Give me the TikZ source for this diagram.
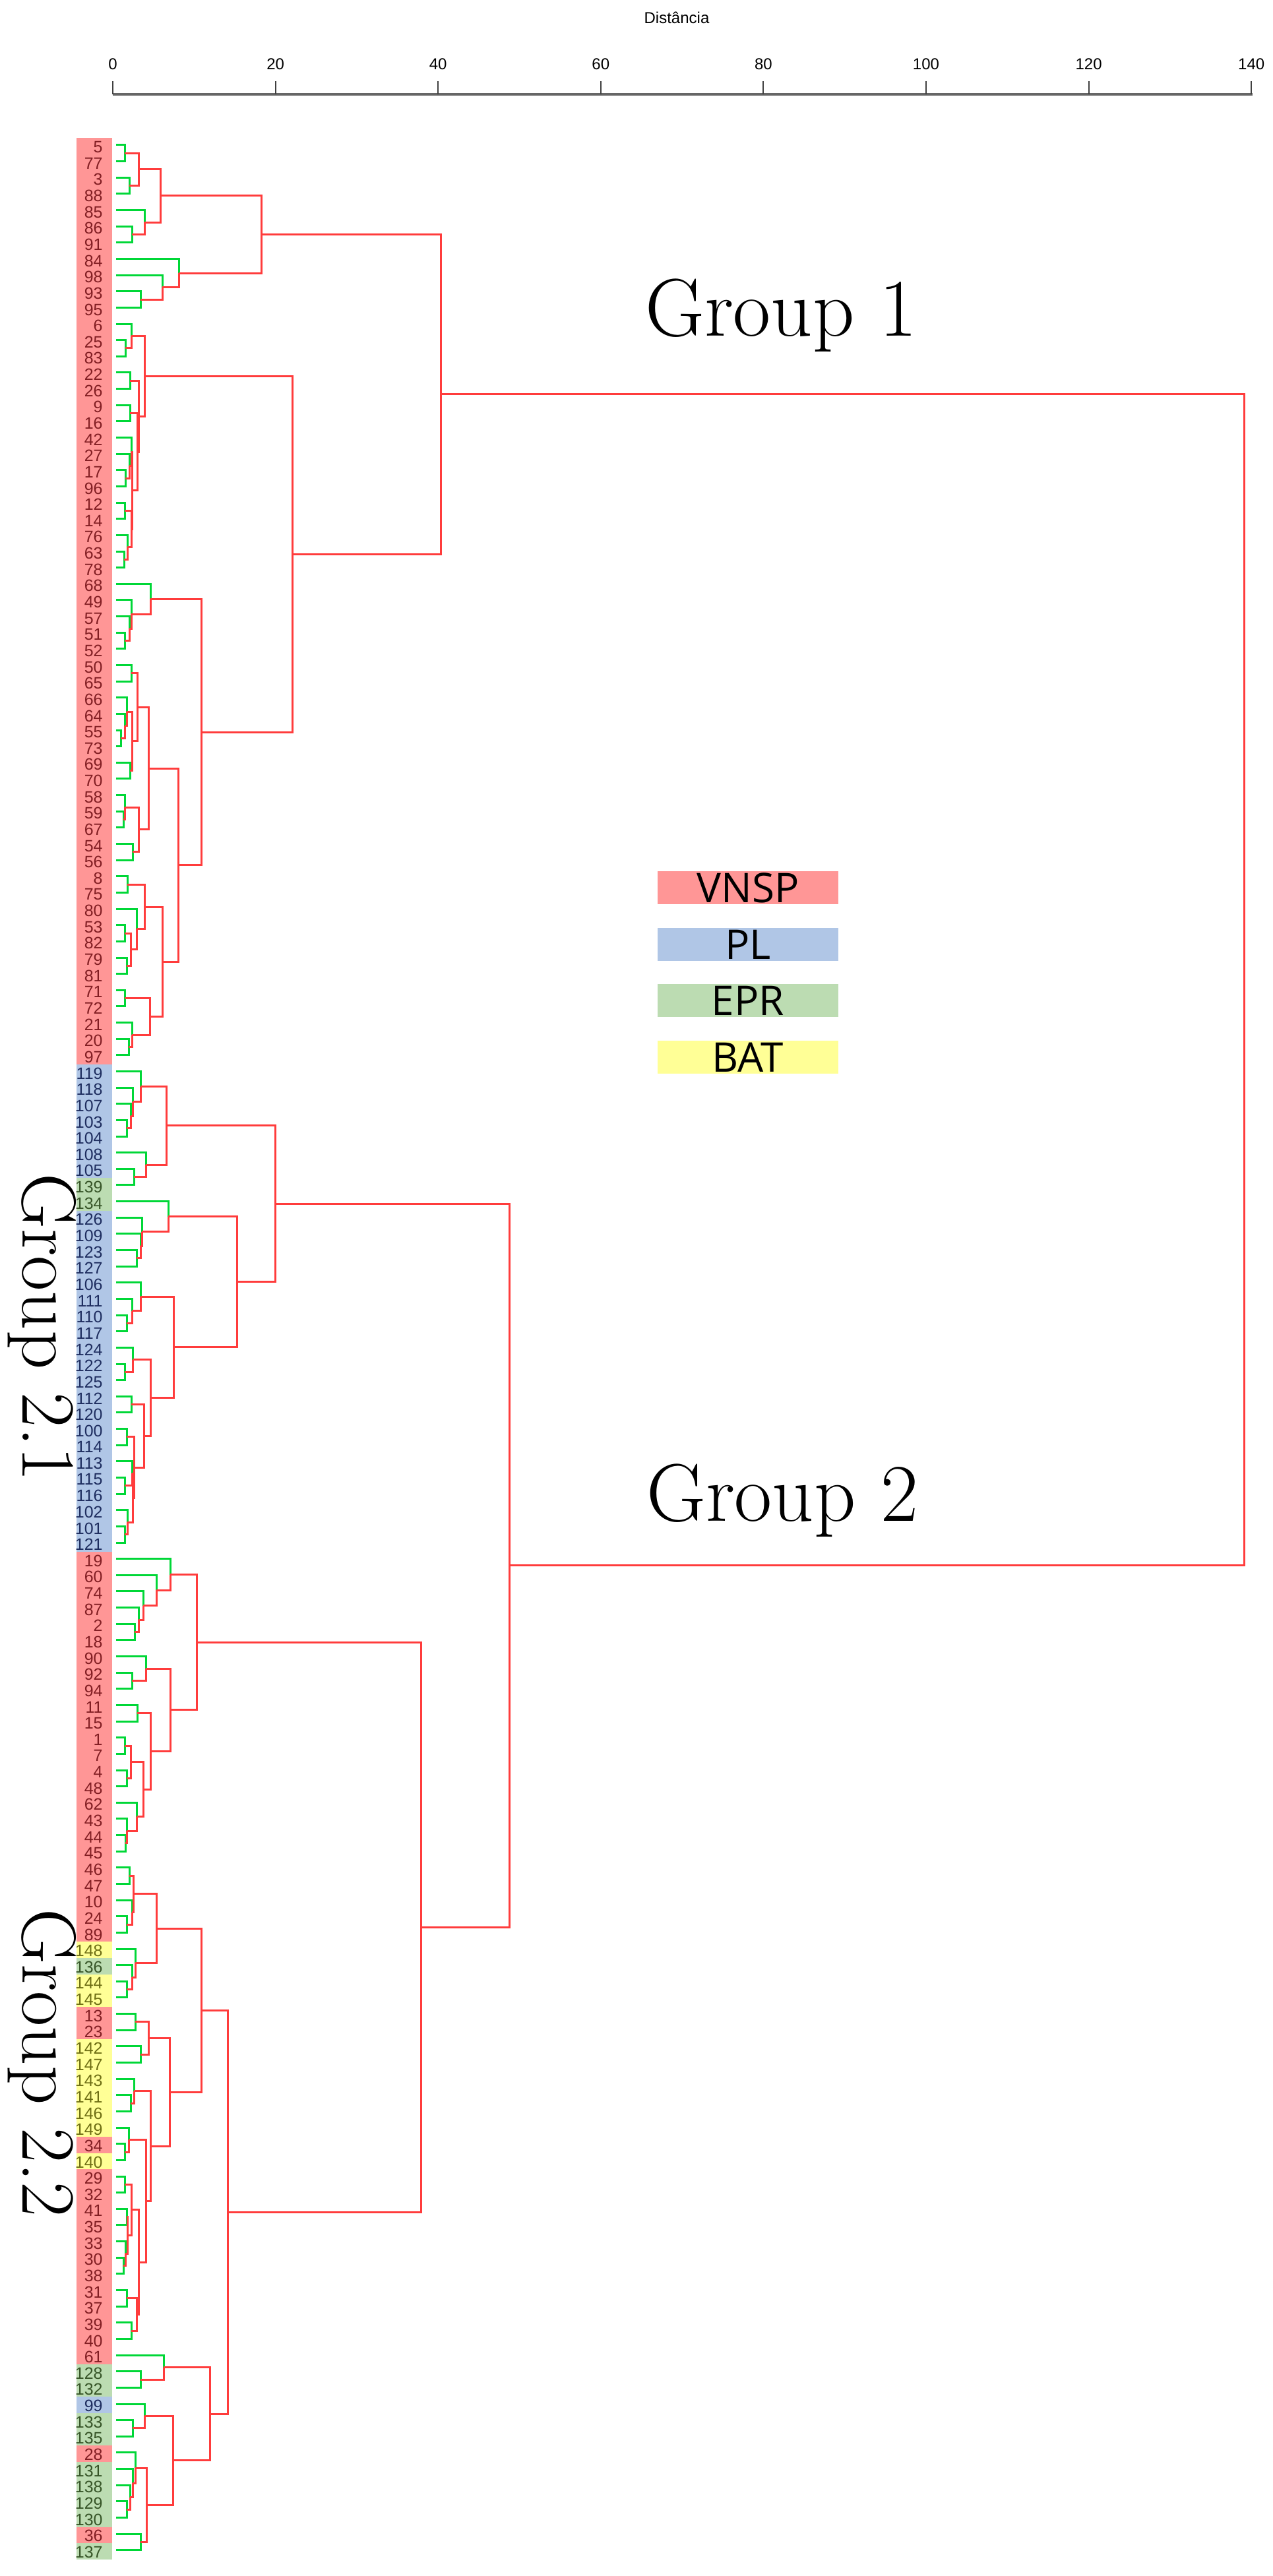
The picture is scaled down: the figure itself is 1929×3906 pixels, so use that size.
\documentclass[tikz,border=0pt]{standalone}
\usepackage{fontspec}
\setsansfont{Liberation Sans}
\newfontfamily\legfont{Open Sans}
\usetikzlibrary{calc}
\definecolor{bgr}{RGB}{255,150,150}
\definecolor{bgb}{RGB}{176,198,230}
\definecolor{bgg}{RGB}{188,220,178}
\definecolor{bgy}{RGB}{255,255,150}
\definecolor{txr}{RGB}{130,30,35}
\definecolor{txb}{RGB}{30,45,95}
\definecolor{txg}{RGB}{55,85,40}
\definecolor{txy}{RGB}{110,110,20}
\definecolor{lred}{RGB}{255,60,60}
\definecolor{lgreen}{RGB}{0,215,55}
\newcommand\dmerge[6]{%
  \path (#2) -- (#4) coordinate[pos=0.5] (#1mid);
  \coordinate (#1x) at (#6,0);
  \coordinate (#1) at (#1mid -| #1x);
  \draw[#3] (#2) -| (#1);
  \draw[#5] (#1) |- (#4);
}
\begin{document}
\begin{tikzpicture}[x=0.5pt,y=-0.5pt,
  lf/.style={draw=lgreen,line width=1.5pt},
  cl/.style={draw=lred,line width=1.5pt},
  lbl/.style={font=\sffamily\fontsize{12.5}{13}\selectfont,anchor=east,inner sep=0pt},
  axn/.style={font=\sffamily\fontsize{12}{13}\selectfont,inner sep=0pt},
  axisl/.style={draw=black!75,line width=1pt},
  grp/.style={font=\fontsize{62}{66}\selectfont,inner sep=0pt},
  grpv/.style={font=\fontsize{58}{62}\selectfont,inner sep=0pt,rotate=-90},
  leg/.style={font=\legfont\fontsize{31}{33}\selectfont,minimum width=137pt,minimum height=25pt,inner sep=0pt,text=black}]
\useasboundingbox (0,0) rectangle (1929,3906);
\fill[white] (0,0) rectangle (1929,3906);
% axis
\node[axn] (title) at (1026,27) {Distância};
\coordinate (ax0) at (171,143);
\coordinate (ax1) at (1899,143);
\draw[axisl,line width=2pt,draw=black!60] (ax0) -- (ax1);
\foreach \d in {0,20,...,140}{
  \coordinate (tk\d) at ({171+12.33*\d},143);
  \coordinate (tt\d) at ({171+12.33*\d},123);
  \draw[axisl] (tk\d) -- (tt\d);
  \node[axn] (axl\d) at ({171+12.33*\d},97) {\d};
}
% leaves
\foreach \lab/\cls [count=\i from 0] in {5/r,77/r,3/r,88/r,85/r,86/r,91/r,84/r,98/r,93/r,95/r,6/r,25/r,83/r,22/r,26/r,9/r,16/r,42/r,27/r,17/r,96/r,12/r,14/r,76/r,63/r,78/r,68/r,49/r,57/r,51/r,52/r,50/r,65/r,66/r,64/r,55/r,73/r,69/r,70/r,58/r,59/r,67/r,54/r,56/r,8/r,75/r,80/r,53/r,82/r,79/r,81/r,71/r,72/r,21/r,20/r,97/r,119/b,118/b,107/b,103/b,104/b,108/b,105/b,139/g,134/g,126/b,109/b,123/b,127/b,106/b,111/b,110/b,117/b,124/b,122/b,125/b,112/b,120/b,100/b,114/b,113/b,115/b,116/b,102/b,101/b,121/b,19/r,60/r,74/r,87/r,2/r,18/r,90/r,92/r,94/r,11/r,15/r,1/r,7/r,4/r,48/r,62/r,43/r,44/r,45/r,46/r,47/r,10/r,24/r,89/r,148/y,136/g,144/y,145/y,13/r,23/r,142/y,147/y,143/y,141/y,146/y,149/y,34/r,140/y,29/r,32/r,41/r,35/r,33/r,30/r,38/r,31/r,37/r,39/r,40/r,61/r,128/g,132/g,99/b,133/g,135/g,28/r,131/g,138/g,129/g,130/g,36/r,137/g}{
  \pgfmathsetmacro\yy{220+24.64*\i}
  \fill[fill=bg\cls] (116,\yy-10.6) rectangle (170,\yy+14.1);
  \node[lbl,text=tx\cls] (lab\lab) at (156,\yy+3) {\lab};
  \coordinate (L\lab) at (176,\yy);
}
% ---- Group 1
\dmerge{a1}{L5}{lf}{L77}{lf}{189}
\dmerge{a2}{L3}{lf}{L88}{lf}{196}
\dmerge{a3}{a1}{cl}{a2}{cl}{210}
\dmerge{b1}{L86}{lf}{L91}{lf}{200}
\dmerge{b2}{L85}{lf}{b1}{cl}{219}
\dmerge{a4}{a3}{cl}{b2}{cl}{243}
\dmerge{c1}{L93}{lf}{L95}{lf}{213}
\dmerge{c2}{L98}{lf}{c1}{cl}{246}
\dmerge{c3}{L84}{lf}{c2}{cl}{271}
\dmerge{ga}{a4}{cl}{c3}{cl}{396}
\dmerge{d1}{L25}{lf}{L83}{lf}{190}
\dmerge{d2}{L6}{lf}{d1}{cl}{199}
\dmerge{e1}{L22}{lf}{L26}{lf}{197}
\dmerge{e2}{L9}{lf}{L16}{lf}{197}
\dmerge{f1}{L17}{lf}{L96}{lf}{190}
\dmerge{f2}{L27}{lf}{f1}{cl}{196}
\dmerge{f3}{L42}{lf}{f2}{cl}{199}
\dmerge{gg1}{L12}{lf}{L14}{lf}{189}
\dmerge{gg2}{L63}{lf}{L78}{lf}{188}
\dmerge{gg3}{L76}{lf}{gg2}{cl}{193}
\dmerge{gg4}{gg1}{cl}{gg3}{cl}{199}
\dmerge{zz1}{f3}{cl}{gg4}{cl}{200}
\dmerge{yy1}{e2}{cl}{zz1}{cl}{208}
\dmerge{e3}{e1}{cl}{yy1}{cl}{210}
\dmerge{d3}{d2}{cl}{e3}{cl}{219}
\dmerge{h1}{L51}{lf}{L52}{lf}{189}
\dmerge{h2}{L57}{lf}{h1}{cl}{196}
\dmerge{h3}{L49}{lf}{h2}{cl}{199}
\dmerge{h4}{L68}{lf}{h3}{cl}{228}
\dmerge{h5}{L50}{lf}{L65}{lf}{199}
\dmerge{h6}{L55}{lf}{L73}{lf}{183}
\dmerge{h7}{L64}{lf}{h6}{cl}{189}
\dmerge{h8}{L66}{lf}{h7}{cl}{192}
\dmerge{h9}{L69}{lf}{L70}{lf}{197}
\dmerge{h10}{h8}{cl}{h9}{cl}{200}
\dmerge{h11}{h5}{cl}{h10}{cl}{208}
\dmerge{h12}{L59}{lf}{L67}{lf}{187}
\dmerge{h13}{L58}{lf}{h12}{cl}{189}
\dmerge{h14}{L54}{lf}{L56}{lf}{201}
\dmerge{h15}{h13}{cl}{h14}{cl}{210}
\dmerge{h16}{h11}{cl}{h15}{cl}{225}
\dmerge{i1}{L8}{lf}{L75}{lf}{193}
\dmerge{i2a}{L53}{lf}{L82}{lf}{189}
\dmerge{i2b}{L79}{lf}{L81}{lf}{192}
\dmerge{i2c}{i2a}{cl}{i2b}{cl}{198}
\dmerge{i2}{L80}{lf}{i2c}{cl}{207}
\dmerge{i3}{i1}{cl}{i2}{cl}{219}
\dmerge{j1}{L71}{lf}{L72}{lf}{189}
\dmerge{j2a}{L20}{lf}{L97}{lf}{195}
\dmerge{j2}{L21}{lf}{j2a}{cl}{200}
\dmerge{j3}{j1}{cl}{j2}{cl}{227}
\dmerge{i4}{i3}{cl}{j3}{cl}{246}
\dmerge{h17}{h16}{cl}{i4}{cl}{270}
\dmerge{h18}{h4}{cl}{h17}{cl}{305}
\dmerge{d4}{d3}{cl}{h18}{cl}{443}
\dmerge{grp1}{ga}{cl}{d4}{cl}{668}
% ---- Group 2.1
\dmerge{k1}{L103}{lf}{L104}{lf}{192}
\dmerge{k2}{L107}{lf}{k1}{cl}{198}
\dmerge{k3}{L118}{lf}{k2}{cl}{201}
\dmerge{k4}{L119}{lf}{k3}{cl}{213}
\dmerge{k5a}{L105}{lf}{L139}{lf}{203}
\dmerge{k5}{L108}{lf}{k5a}{cl}{221}
\dmerge{k6}{k4}{cl}{k5}{cl}{252}
\dmerge{l1}{L123}{lf}{L127}{lf}{207}
\dmerge{l2}{L109}{lf}{l1}{cl}{213}
\dmerge{l3}{L126}{lf}{l2}{cl}{215}
\dmerge{l4}{L134}{lf}{l3}{cl}{255}
\dmerge{m1a}{L110}{lf}{L117}{lf}{192}
\dmerge{m1b}{L111}{lf}{m1a}{cl}{200}
\dmerge{m1}{L106}{lf}{m1b}{cl}{213}
\dmerge{m2a}{L122}{lf}{L125}{lf}{189}
\dmerge{m2}{L124}{lf}{m2a}{cl}{201}
\dmerge{n0}{L112}{lf}{L120}{lf}{199}
\dmerge{n0b}{L100}{lf}{L114}{lf}{192}
\dmerge{n1a}{L115}{lf}{L116}{lf}{189}
\dmerge{n1}{L113}{lf}{n1a}{cl}{200}
\dmerge{n2a}{L101}{lf}{L121}{lf}{189}
\dmerge{n2b}{L102}{lf}{n2a}{cl}{193}
\dmerge{n2}{n1}{cl}{n2b}{cl}{201}
\dmerge{n3}{n0b}{cl}{n2}{cl}{203}
\dmerge{n4}{n0}{cl}{n3}{cl}{218}
\dmerge{m3}{m2}{cl}{n4}{cl}{228}
\dmerge{m4}{m1}{cl}{m3}{cl}{263}
\dmerge{l5}{l4}{cl}{m4}{cl}{359}
\dmerge{grp21}{k6}{cl}{l5}{cl}{417}
% ---- Group 2.2
\dmerge{p1}{L2}{lf}{L18}{lf}{204}
\dmerge{p2}{L87}{lf}{p1}{cl}{210}
\dmerge{p3}{L74}{lf}{p2}{cl}{217}
\dmerge{p4}{L60}{lf}{p3}{cl}{237}
\dmerge{p5}{L19}{lf}{p4}{cl}{258}
\dmerge{q0}{L92}{lf}{L94}{lf}{200}
\dmerge{q1}{L90}{lf}{q0}{cl}{221}
\dmerge{r1}{L11}{lf}{L15}{lf}{208}
\dmerge{r2a}{L1}{lf}{L7}{lf}{189}
\dmerge{r2b}{L4}{lf}{L48}{lf}{192}
\dmerge{r2}{r2a}{cl}{r2b}{cl}{198}
\dmerge{r3a}{L44}{lf}{L45}{lf}{190}
\dmerge{r3b}{L43}{lf}{r3a}{cl}{192}
\dmerge{r4}{L62}{lf}{r3b}{cl}{207}
\dmerge{r5}{r2}{cl}{r4}{cl}{217}
\dmerge{r6}{r1}{cl}{r5}{cl}{228}
\dmerge{q2}{q1}{cl}{r6}{cl}{258}
\dmerge{p6}{p5}{cl}{q2}{cl}{298}
\dmerge{s0a}{L46}{lf}{L47}{lf}{196}
\dmerge{s0b}{L24}{lf}{L89}{lf}{192}
\dmerge{s0c}{L10}{lf}{s0b}{cl}{200}
\dmerge{s1}{s0a}{cl}{s0c}{cl}{202}
\dmerge{s2a}{L144}{lf}{L145}{lf}{192}
\dmerge{s2b}{L136}{lf}{s2a}{cl}{200}
\dmerge{s2}{L148}{lf}{s2b}{cl}{205}
\dmerge{s3}{s1}{cl}{s2}{cl}{237}
\dmerge{t0a}{L13}{lf}{L23}{lf}{205}
\dmerge{t0b}{L142}{lf}{L147}{lf}{213}
\dmerge{t1}{t0a}{cl}{t0b}{cl}{225}
\dmerge{t2a}{L141}{lf}{L146}{lf}{198}
\dmerge{t2}{L143}{lf}{t2a}{cl}{203}
\dmerge{t3a}{L34}{lf}{L140}{lf}{189}
\dmerge{t3}{L149}{lf}{t3a}{cl}{195}
\dmerge{u1}{L29}{lf}{L32}{lf}{189}
\dmerge{v1}{L41}{lf}{L35}{lf}{192}
\dmerge{v2a}{L30}{lf}{L38}{lf}{187}
\dmerge{v2}{L33}{lf}{v2a}{cl}{190}
\dmerge{v3}{v1}{cl}{v2}{cl}{193}
\dmerge{w1}{u1}{cl}{v3}{cl}{199}
\dmerge{x1}{L31}{lf}{L37}{lf}{192}
\dmerge{x2}{L39}{lf}{L40}{lf}{199}
\dmerge{x3}{x1}{cl}{x2}{cl}{207}
\dmerge{uu}{w1}{cl}{x3}{cl}{210}
\dmerge{t4}{t3}{cl}{uu}{cl}{221}
\dmerge{t5}{t2}{cl}{t4}{cl}{228}
\dmerge{t6}{t1}{cl}{t5}{cl}{257}
\dmerge{t7}{s3}{cl}{t6}{cl}{305}
\dmerge{y0}{L128}{lf}{L132}{lf}{213}
\dmerge{y1b}{L61}{lf}{y0}{cl}{248}
\dmerge{y2a}{L133}{lf}{L135}{lf}{201}
\dmerge{y2}{L99}{lf}{y2a}{cl}{219}
\dmerge{y3a}{L129}{lf}{L130}{lf}{192}
\dmerge{y3b}{L138}{lf}{y3a}{cl}{197}
\dmerge{y3c}{L131}{lf}{y3b}{cl}{201}
\dmerge{y3}{L28}{lf}{y3c}{cl}{205}
\dmerge{y4a}{L36}{lf}{L137}{lf}{213}
\dmerge{y4}{y3}{cl}{y4a}{cl}{222}
\dmerge{y5}{y2}{cl}{y4}{cl}{262}
\dmerge{y6}{y1b}{cl}{y5}{cl}{318}
\dmerge{zz2}{t7}{cl}{y6}{cl}{345}
\dmerge{grp22}{p6}{cl}{zz2}{cl}{638}
\dmerge{grp2}{grp21}{cl}{grp22}{cl}{772}
\dmerge{root}{grp1}{cl}{grp2}{cl}{1886}
% group labels
\node[grp] (tg1) at (1184,478) {Group 1};
\node[grp] (tg2) at (1186,2275) {Group 2};
\node[grpv] (tg21) at (64,2013) {Group 2.1};
\node[grpv] (tg22) at (64,3128) {Group 2.2};
% legend
\node[leg,fill=bgr] (kv) at (1134,1346) {VNSP};
\node[leg,fill=bgb] (kp) at (1134,1432) {PL};
\node[leg,fill=bgg] (ke) at (1134,1517) {EPR};
\node[leg,fill=bgy] (kb) at (1134,1603) {BAT};
\end{tikzpicture}
\end{document}
